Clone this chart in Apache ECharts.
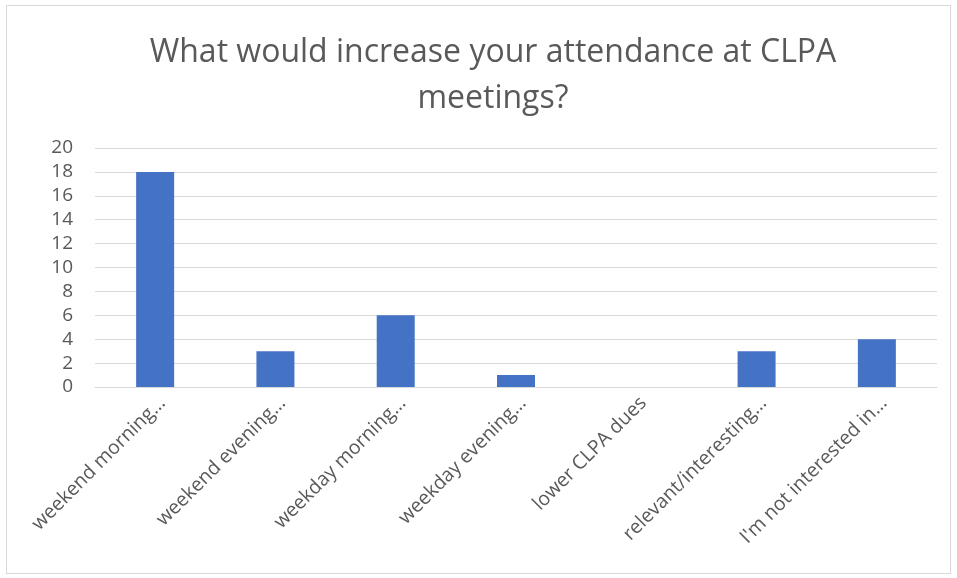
<!DOCTYPE html>
<html>
<head>
<meta charset="utf-8">
<script src="https://cdn.jsdelivr.net/npm/echarts@6/dist/echarts.min.js"></script>
<style>
	html, body { margin: 0; padding: 0; background: #fff; }
	#frame { position: absolute; left: 6px; top: 5px; width: 943px; height: 567px; border: 1px solid #d9d9d9; }
	#chart { position: absolute; left: 0; top: 0; width: 957px; height: 578px; }
</style>
</head>
<body>
<div id="frame"></div>
<div id="chart"></div>
<script>
	// 数据
	const categories = [
		"weekend morning…",
		"weekend evening…",
		"weekday morning…",
		"weekday evening…",
		"lower CLPA dues",
		"relevant/interesting…",
		"I'm not interested in…"
	];
	const counts = [18, 3, 6, 1, 0, 3, 4];
	const yTicks = [0, 2, 4, 6, 8, 10, 12, 14, 16, 18, 20];

	const myChart = echarts.init(document.getElementById("chart"));
	const textFont = "'Open Sans', 'Noto Sans', sans-serif";

	const option = {
		animation: false,
		title: {
			text: "What would increase your attendance at CLPA\nmeetings?",
			left: 488,
			top: 25,
			textAlign: "center",
			textStyle: {
				color: "#595959",
				fontSize: 32,
				fontWeight: "normal",
				fontFamily: textFont,
				lineHeight: 46
			}
		},
		grid: {
			left: 95,
			right: 20,
			top: 148,
			bottom: 191
		},
		xAxis: {
			type: "category",
			data: categories,
			axisLine: { lineStyle: { color: "#d9d9d9", width: 1 } },
			axisTick: { show: false },
			axisLabel: {
				rotate: 45,
				color: "#595959",
				fontSize: 19.5,
				fontFamily: textFont,
				margin: 6,
				verticalAlign: "top",
				interval: 0
			}
		},
		yAxis: {
			type: "value",
			min: yTicks[0],
			max: yTicks[yTicks.length - 1],
			interval: 2,
			axisLine: { show: false },
			axisTick: { show: false },
			axisLabel: {
				color: "#595959",
				fontSize: 19,
				fontFamily: textFont,
				margin: 22
			},
			splitLine: { lineStyle: { color: "#d9d9d9", width: 1 } }
		},
		series: [
			{
				type: "bar",
				data: counts,
				barWidth: 38,
				itemStyle: { color: "#4472C4" }
			}
		]
	};

	myChart.setOption(option);
	window.addEventListener("resize", () => myChart.resize());
</script>
</body>
</html>
